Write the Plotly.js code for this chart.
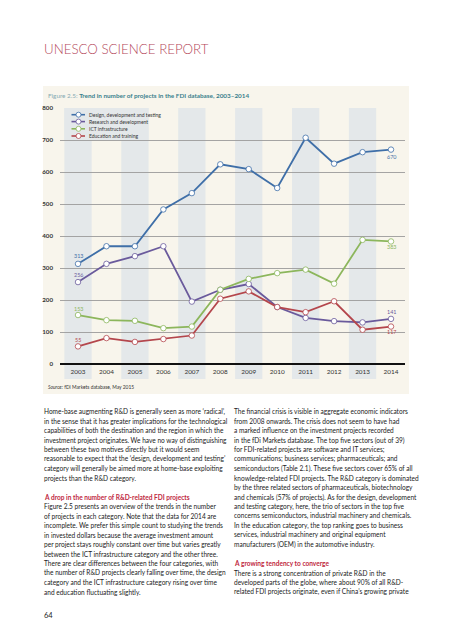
<!DOCTYPE html>
<html>
<head>
<meta charset="utf-8">
<script src="https://cdn.plot.ly/plotly-3.0.1.min.js"></script>
<style>html,body{margin:0;padding:0;background:#fff;}#chart{width:453px;height:640px;}</style>
</head>
<body>
<div id="chart"></div>
<script>
// ---- data ----
const years = [2003, 2004, 2005, 2006, 2007, 2008, 2009, 2010, 2011, 2012, 2013, 2014];
const yearLabels = years.map(String);
const seriesNames = ["Design, development and testing", "Research and development", "ICT infrastructure", "Education and training"];
const design    = [313, 368, 368, 483, 534, 624, 609, 550, 707, 626, 662, 670];
const research  = [256, 313, 337, 368, 195, 232, 250, 178, 144, 134, 130, 141];
const ict       = [153, 137, 135, 112, 117, 232, 266, 284, 295, 251, 388, 383];
const education = [55, 81, 69, 78, 89, 204, 227, 178, 162, 196, 107, 117];
const yTicks = [0, 100, 200, 300, 400, 500, 600, 700, 800];
const bandYears = [2003, 2005, 2007, 2009, 2011, 2013];

// ---- styling ----
const W = 453, H = 640;
const px = x => x / W;
const py = y => 1 - y / H;
const colors = ["#3f6fa8", "#6a5a9c", "#8cb65c", "#b4464c"];
const allSeries = [design, research, ict, education];
const FONT = "Lato, 'Noto Sans', sans-serif";

const traces = allSeries.map((vals, i) => ({
  type: "scatter", mode: "lines+markers", name: seriesNames[i],
  x: years, y: vals,
  line: {color: colors[i], width: 1.8},
  marker: {symbol: "circle", size: 5.5, color: "#ffffff", line: {color: colors[i], width: 0.8}},
  hoverinfo: "x+y+name", showlegend: false
}));

const shapes = [];
// cream panel
shapes.push({type: "rect", xref: "paper", yref: "paper", x0: px(43), x1: px(409), y0: py(394), y1: py(86),
  fillcolor: "#f8f5ec", line: {width: 0}, layer: "below"});
// bands
bandYears.forEach(yr => shapes.push({type: "rect", xref: "x", yref: "paper", x0: yr - 0.48, x1: yr + 0.48,
  y0: py(379), y1: py(108), fillcolor: "#e4e8ea", line: {width: 0}, layer: "below"}));
// legend background (fills the gap between first two bands)
shapes.push({type: "rect", xref: "x", yref: "paper", x0: 2003 - 0.48, x1: 2005 + 0.48,
  y0: py(140), y1: py(108), fillcolor: "#e4e8ea", line: {width: 0}, layer: "below"});

const annotations = [];
// legend
const legY = [114.7, 121.6, 128.8, 136];
seriesNames.forEach((nm, i) => {
  shapes.push({type: "line", xref: "paper", yref: "paper", x0: px(71.5), x1: px(85), y0: py(legY[i]), y1: py(legY[i]),
    line: {color: colors[i], width: 1.6}});
  shapes.push({type: "circle", xref: "paper", yref: "paper", x0: px(76), x1: px(81), y0: py(legY[i] + 2.5), y1: py(legY[i] - 2.5),
    fillcolor: "#ffffff", line: {color: colors[i], width: 0.8}});
  annotations.push({xref: "paper", yref: "paper", x: px(86.5), y: py(legY[i]), xanchor: "left", yanchor: "middle",
    text: nm, showarrow: false, font: {family: FONT, size: 5.0, color: "#333"}});
});

// data labels
const lab = (si, idx, dy, dx) => annotations.push({xref: "x", yref: "y", x: years[idx], y: allSeries[si][idx],
  text: String(allSeries[si][idx]), showarrow: false, yshift: dy, xshift: dx || 0,
  font: {family: FONT, size: 5.4, color: colors[si]}});
lab(0, 0, 7.5); lab(1, 0, 7); lab(2, 0, 6.5); lab(3, 0, 6.5);
lab(0, 11, -7); lab(2, 11, -6); lab(1, 11, 6.5); lab(3, 11, -5.5);

// header & titles
annotations.push({xref: "paper", yref: "paper", x: px(42), y: py(48.5), xanchor: "left", yanchor: "middle", showarrow: false,
  text: "UNESCO SCIENCE REPORT", font: {family: FONT, size: 13.3, color: "#b4475a", weight: 300}});
annotations.push({xref: "paper", yref: "paper", x: px(45.5), y: py(95.8), xanchor: "left", yanchor: "middle", showarrow: false,
  text: "<span style='color:#86aab3'>Figure 2.5: </span><b>Trend in number of projects in the FDI database, 2003–2014</b>",
  font: {family: FONT, size: 6.35, color: "#3a7f8d"}});
annotations.push({xref: "paper", yref: "paper", x: px(46), y: py(387.3), xanchor: "left", yanchor: "middle", showarrow: false,
  text: "<i>Source:</i> fDi Markets database, May 2015", font: {family: FONT, size: 4.9, color: "#333"}});

// body text
const leftLines = [
  "Home-base augmenting R&D is generally seen as more ‘radical’,",
  "in the sense that it has greater implications for the technological",
  "capabilities of both the destination and the region in which the",
  "investment project originates. We have no way of distinguishing",
  "between these two motives directly but it would seem",
  "reasonable to expect that the ‘design, development and testing’",
  "category will generally be aimed more at home-base exploiting",
  "projects than the R&D category.",
  "",
  "#A drop in the number of R&D-related FDI projects",
  "Figure 2.5 presents an overview of the trends in the number",
  "of projects in each category. Note that the data for 2014 are",
  "incomplete. We prefer this simple count to studying the trends",
  "in invested dollars because the average investment amount",
  "per project stays roughly constant over time but varies greatly",
  "between the ICT infrastructure category and the other three.",
  "There are clear differences between the four categories, with",
  "the number of R&D projects clearly falling over time, the design",
  "category and the ICT infrastructure category rising over time",
  "and education fluctuating slightly."
];
const rightLines = [
  "The financial crisis is visible in aggregate economic indicators",
  "from 2008 onwards. The crisis does not seem to have had",
  "a marked influence on the investment projects recorded",
  "in the fDi Markets database. The top five sectors (out of 39)",
  "for FDI-related projects are software and IT services;",
  "communications; business services; pharmaceuticals; and",
  "semiconductors (Table 2.1). These five sectors cover 65% of all",
  "knowledge-related FDI projects. The R&D category is dominated",
  "by the three related sectors of pharmaceuticals, biotechnology",
  "and chemicals (57% of projects). As for the design, development",
  "and testing category, here, the trio of sectors in the top five",
  "concerns semiconductors, industrial machinery and chemicals.",
  "In the education category, the top ranking goes to business",
  "services, industrial machinery and original equipment",
  "manufacturers (OEM) in the automotive industry.",
  "",
  "#A growing tendency to converge",
  "There is a strong concentration of private R&D in the",
  "developed parts of the globe, where about 90% of all R&D-",
  "related FDI projects originate, even if China’s growing private"
];
const addCol = (lines, x0) => lines.forEach((t, k) => {
  if (!t) return;
  const head = t.startsWith("#");
  const txt = (head ? t.slice(1) : t).replace(/&/g, "&amp;");
  annotations.push({xref: "paper", yref: "paper", x: px(x0), y: py(411.7 + 9.5 * k), xanchor: "left", yanchor: "middle",
    showarrow: false, text: head ? "<b>" + txt + "</b>" : txt,
    font: {family: FONT, size: 6.55, color: head ? "#c0283e" : "#222"}});
});
addCol(leftLines, 41.5);
addCol(rightLines, 231.5);
annotations.push({xref: "paper", yref: "paper", x: px(41.5), y: py(615.7), xanchor: "left", yanchor: "middle", showarrow: false,
  text: "64", font: {family: FONT, size: 7.5, color: "#222"}});

const layout = {
  width: W, height: H, autosize: false,
  margin: {l: 0, r: 0, t: 0, b: 0, pad: 0},
  paper_bgcolor: "#ffffff", plot_bgcolor: "rgba(0,0,0,0)",
  showlegend: false,
  font: {family: FONT, color: "#333"},
  xaxis: {domain: [px(60), px(405)], range: [2002.367, 2014.492], tickvals: years, ticktext: yearLabels,
    showgrid: false, zeroline: false, showline: false, ticks: "", ticklabelstandoff: 3,
    tickfont: {family: FONT, size: 6.4, color: "#333"}, fixedrange: true},
  yaxis: {domain: [py(364), py(108)], range: [0, 800], tickvals: yTicks, ticktext: yTicks.map(String),
    showgrid: true, gridcolor: "#9b9b9b", gridwidth: 0.9, zeroline: true, zerolinecolor: "#111", zerolinewidth: 1.4,
    showline: false, ticks: "", ticklabelstandoff: 6,
    tickfont: {family: FONT, size: 6.2, color: "#333", weight: 700}, fixedrange: true},
  shapes: shapes,
  annotations: annotations
};

Plotly.newPlot("chart", traces, layout, {staticPlot: true, displayModeBar: false});
</script>
</body>
</html>
